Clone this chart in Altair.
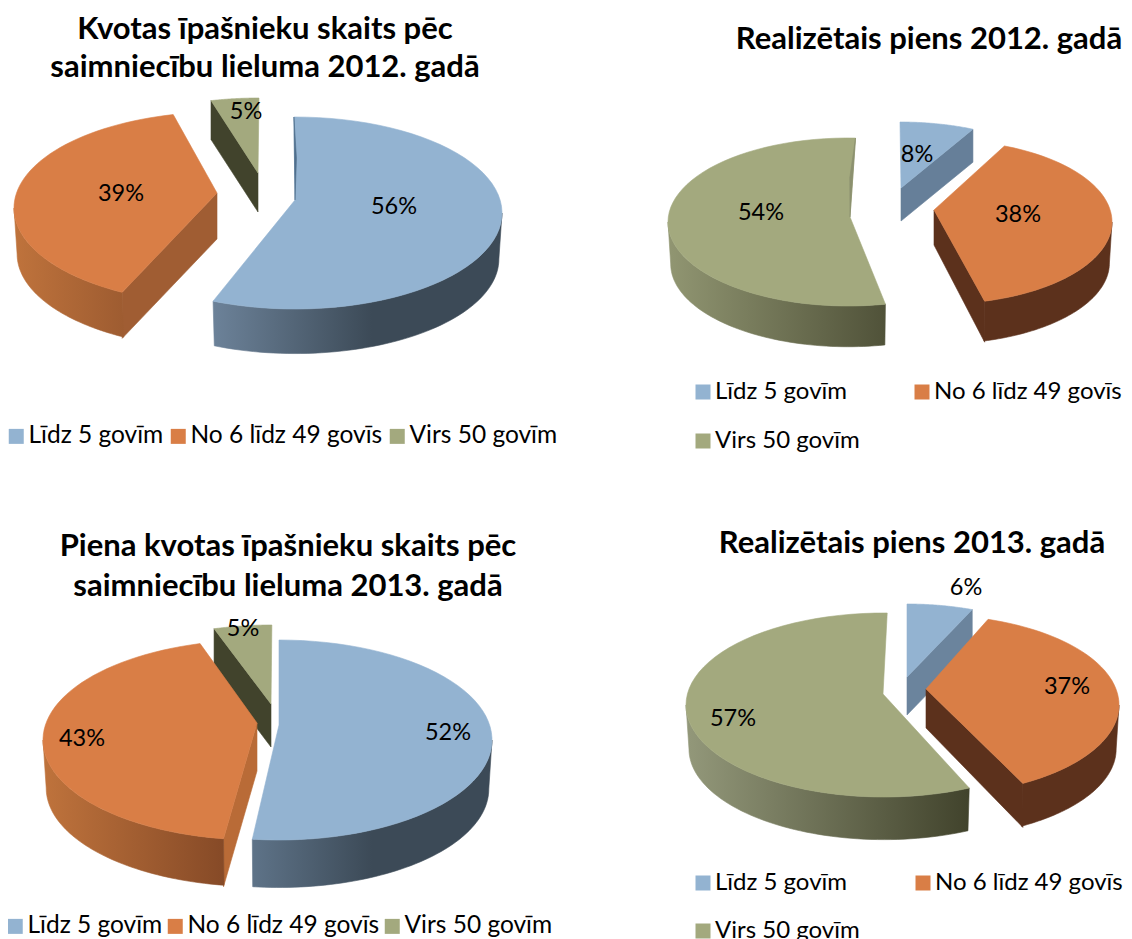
import numpy as np
import pandas as pd
import altair as alt

FONT = "Lato"
CATEGORIES = ["Līdz 5 govīm", "No 6 līdz 49 govīs", "Virs 50 govīm"]
TOPS = ["#93B3D1", "#D97E46", "#A3A97E"]

TITLE_TL = ["Kvotas īpašnieku skaits pēc", "saimniecību lieluma 2012. gadā"]
TITLE_TR = ["Realizētais piens 2012. gadā"]
TITLE_BL = ["Piena kvotas īpašnieku skaits pēc", "saimniecību lieluma 2013. gadā"]
TITLE_BR = ["Realizētais piens 2013. gadā"]

VALUES_TL = [56, 39, 5]
VALUES_TR = [8, 38, 54]
VALUES_BL = [52, 43, 5]
VALUES_BR = [6, 37, 57]

TITLE_SIZE = 31
LABEL_SIZE = 23.5

def G(*stops):
    n = len(stops)
    out = []
    for i, s in enumerate(stops):
        if isinstance(s, tuple):
            out.append({"offset": s[0], "color": s[1]})
        else:
            out.append({"offset": i / (n - 1), "color": s})
    return {"gradient": "linear", "x1": 0, "x2": 1, "y1": 0, "y2": 0, "stops": out}

# Geometry of the drawing (page pixels): draw order is back to front.
PANELS = [
    dict(origin=(8, 8), size=(558, 462), title=TITLE_TL, title_c=265, title_ys=[30, 68],
         values=VALUES_TL, order=[2, 1, 0],
         legend=dict(x=1, y=424, cols=3, colpad=6, rowpad=8, off=0, size=24.5),
         labels=[(394, 207), (121, 194), (246, 112)],
         geo={
             0: dict(start=-0.3, k=1.01, cx=295, cy=213, rx=207, ry=96, ax=295, ay=200, d=46,
                     outer=G("#6C8299", (0.55, "#3C4A57"), (1, "#3C4A57")), sliver=("#4F6E8C", 2)),
             1: dict(start=208.5, k=0.984, cx=221, cy=208, rx=207, ry=96, ax=217, ay=193, d=46,
                     outer=G("#BF733C", "#9E5C31"), wall_start="#A05D33"),
             2: dict(start=346.6, k=0.744, cx=259, cy=194, rx=207, ry=96, ax=258, ay=173, d=39,
                     wall_start="#41432C"),
         }),
    dict(origin=(566, 8), size=(558, 462), title=TITLE_TR, title_c=929, title_ys=[40],
         values=VALUES_TR, order=[0, 2, 1],
         legend=dict(x=130, y=380, cols=2, colpad=54, rowpad=25, off=0, size=24),
         labels=[(917, 155), (1018, 215), (761, 213)],
         geo={
             0: dict(start=0, k=0.83, cx=900, cy=206, rx=180, ry=84, ax=901, ay=188, d=33,
                     wall_end="#667F99"),
             1: dict(start=22, k=1.045, cx=940, cy=222, rx=172, ry=82, ax=934, ay=210, d=41, da=35,
                     outer=G("#5C311C", "#5C311C"), wall_end="#5C311C"),
             2: dict(start=168, k=1.0, cx=848, cy=222, rx=180, ry=84, ax=850, ay=217, d=42,
                     outer=G("#919672", "#505239"), sliver=("#8C916F", -3)),
         }),
    dict(origin=(8, 470), size=(558, 469), title=TITLE_BL, title_c=288, title_ys=[547, 587],
         values=VALUES_BL, order=[2, 1, 0],
         legend=dict(x=0, y=914, cols=3, colpad=4, rowpad=8, off=0, size=24.5),
         labels=[(448, 733), (82, 739), (243, 629)],
         geo={
             0: dict(start=0, k=1.0, cx=279, cy=740, rx=213, ry=100, ax=279, ay=725, d=49,
                     outer=G("#5E7388", (0.5, "#3C4A57"), (1, "#3C4A57"))),
             1: dict(start=189, k=1.005, cx=257, cy=740, rx=214, ry=100, ax=257, ay=723, d=48,
                     outer=G("#BF733C", "#864A27"), wall_start="#B96B37"),
             2: dict(start=344.3, k=0.87, cx=272, cy=725, rx=214, ry=100, ax=271, ay=704, d=43,
                     wall_start="#41432C"),
         }),
    dict(origin=(566, 470), size=(558, 469), title=TITLE_BR, title_c=912, title_ys=[544],
         values=VALUES_BR, order=[0, 2, 1],
         legend=dict(x=130, y=871, cols=2, colpad=55, rowpad=24, off=0, size=24),
         labels=[(966, 588), (1067, 687), (733, 719)],
         geo={
             0: dict(start=0, k=0.93, cx=907, cy=696, rx=190, ry=92, ax=907, ay=677, d=38,
                     wall_end="#6B849D"),
             1: dict(start=17.9, k=0.996, cx=930, cy=705, rx=189, ry=90, ax=926, ay=689, d=44, da=39,
                     outer=G("#5C311C", "#5C311C"), wall_end="#5C311C"),
             2: dict(start=154.5, k=1.006, cx=884, cy=705, rx=198, ry=92, ax=883, ay=694, d=44,
                     outer=G("#93987A", "#41432C")),
         }),
]


def arc_pts(g, a, b, n=60, down=0.0, scale=1.0):
    t = np.radians(np.linspace(a, b, n))
    return list(zip(g["cx"] + g["rx"] * scale * np.sin(t),
                    g["cy"] - g["ry"] * scale * np.cos(t) + down))


def faces(value, g, top):
    a, b = g["start"], g["start"] + value * 3.6 * g["k"]
    d = g["d"]
    da = g.get("da", d)
    P = lambda th: arc_pts(g, th, th, 1)[0]
    apex = (g["ax"], g["ay"])
    res = []
    if g.get("wall_start"):
        p = P(a)
        res.append(([p, apex, (apex[0], apex[1] + da), (p[0], p[1] + d)], g["wall_start"]))
    if g.get("wall_end"):
        p = P(b)
        res.append(([p, apex, (apex[0], apex[1] + da), (p[0], p[1] + d)], g["wall_end"]))
    lo, hi = max(a, 90), min(b, 270)
    if g.get("outer") and hi > lo:
        res.append((arc_pts(g, lo, hi) + arc_pts(g, hi, lo, down=d, scale=0.985), g["outer"]))
    res.append(([apex] + arc_pts(g, a, b), top))
    if g.get("sliver"):
        colour, bulge = g["sliver"]
        p = P(a) if g["start"] < 90 else P(b)
        mid = ((p[0] + apex[0]) / 2 + bulge, (p[1] + apex[1]) / 2)
        res.append(([p, mid, apex], colour))
    return res


def panel(p):
    ox, oy = p["origin"]
    W, H = p["size"]
    xs = alt.X("x:Q", axis=None, scale=alt.Scale(domain=[0, W], nice=False, zero=False))
    ys = alt.Y("y:Q", axis=None, scale=alt.Scale(domain=[H, 0], nice=False, zero=False))
    big = int(np.argmax(p["values"]))
    hide = p["geo"][big]
    L = p["legend"]
    dummy = pd.DataFrame({"cat": CATEGORIES, "x": hide["cx"] - ox, "y": hide["cy"] - oy})
    layers = [
        alt.Chart(dummy).mark_square(size=1, opacity=1).encode(
            x=xs, y=ys,
            color=alt.Color("cat:N", scale=alt.Scale(domain=CATEGORIES, range=TOPS),
                            legend=alt.Legend(
                                orient="none", legendX=L["x"], legendY=L["y"] - oy, columns=L["cols"],
                                direction="horizontal", symbolOffset=-5,
                                title=None, symbolType="square", symbolSize=225, symbolStrokeWidth=0,
                                labelFont=FONT, labelFontSize=L["size"], labelColor="#000000",
                                columnPadding=L["colpad"], rowPadding=L["rowpad"],
                                labelOffset=L["off"], padding=0, labelLimit=300)),
        )
    ]
    for idx in p["order"]:
        for pts, fill in faces(p["values"][idx], p["geo"][idx], TOPS[idx]):
            pts = list(pts) + [pts[0]]
            df = pd.DataFrame({"x": [q[0] - ox for q in pts], "y": [q[1] - oy for q in pts],
                               "i": range(len(pts))})
            layers.append(alt.Chart(df).mark_line(fill=fill, stroke=fill, strokeWidth=0.6,
                                                  interpolate="linear").encode(
                x=xs, y=ys, order=alt.Order("i:Q")))
    lab = pd.DataFrame({"x": [q[0] - ox for q in p["labels"]], "y": [q[1] - oy for q in p["labels"]],
                        "t": [f"{v}%" for v in p["values"]]})
    layers.append(alt.Chart(lab).mark_text(font=FONT, fontSize=LABEL_SIZE, color="#000000",
                                           baseline="middle", align="center").encode(x=xs, y=ys, text="t:N"))
    ttl = pd.DataFrame({"x": [p["title_c"] - ox] * len(p["title"]),
                        "y": [y - oy for y in p["title_ys"]], "t": p["title"]})
    layers.append(alt.Chart(ttl).mark_text(font=FONT, fontSize=TITLE_SIZE, fontWeight="bold", color="#000000",
                                           baseline="middle", align="center").encode(x=xs, y=ys, text="t:N"))
    return alt.layer(*layers).properties(width=W, height=H)


top = alt.hconcat(panel(PANELS[0]), panel(PANELS[1]), spacing=0).resolve_scale(color="independent").resolve_legend(color="independent")
bottom = alt.hconcat(panel(PANELS[2]), panel(PANELS[3]), spacing=0).resolve_scale(color="independent").resolve_legend(color="independent")
chart = (alt.vconcat(top, bottom, spacing=0, padding=0)
         .resolve_scale(color="independent").resolve_legend(color="independent")
         .configure_view(stroke=None).properties(background="white"))
chart.save("out.html", embed_options={"renderer": "svg", "actions": False})
